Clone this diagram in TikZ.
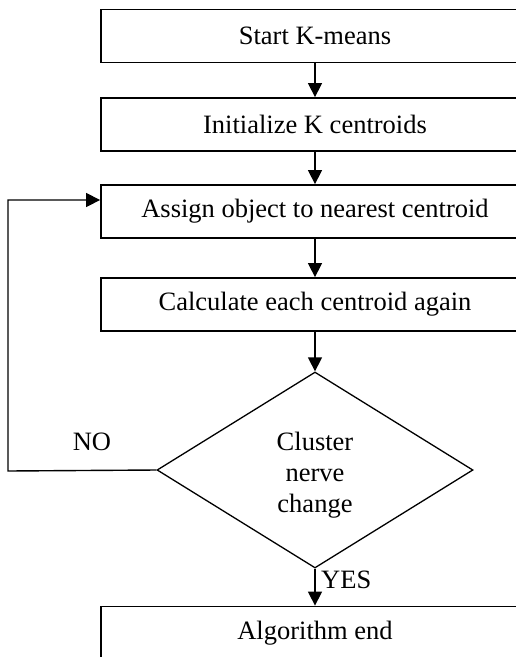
\documentclass[tikz,border=0pt]{standalone}
\usepackage{fontspec}
\setmainfont{Liberation Serif}
\usetikzlibrary{arrows.meta,shapes.geometric}
\begin{document}
\begin{tikzpicture}[x=1pt,y=-1pt,
  every node/.style={font=\fontsize{26.5}{31}\selectfont},
  stepbox/.style={draw,line width=1.8pt,rectangle,minimum width=428pt,minimum height=53pt,inner sep=0pt},
  decision/.style={draw,line width=1.3pt,diamond,minimum width=316pt,minimum height=196pt,inner sep=0pt,align=center},
  flow/.style={line width=1.4pt,-{Triangle[width=14pt,length=14pt]}},
  lab/.style={inner sep=0pt}]
\useasboundingbox (0,0) rectangle (515,657);
\node[stepbox] (b1) at (315,36) {Start K-means};
\node[stepbox] (b2) at (315,124.5) {Initialize K centroids};
\node[stepbox] (b3) at (315,211.5) {Assign object to nearest centroid};
\node[stepbox] (b4) at (315,304.5) {Calculate each centroid again};
\node[decision] (d) at (315,470) {};
\node[lab,align=center] (dt) at (315,475) {Cluster\\nerve\\change};
\node[stepbox] (b5) at (315,633) {Algorithm end};
\coordinate (c1) at (8,471);
\coordinate (c2) at (8,200);
\draw[flow] (b1) -- (b2);
\draw[flow] (b2) -- (b3);
\draw[flow] (b3) -- (b4);
\draw[flow] (b4) -- (d);
\draw[flow] (d) -- (b5);
\draw[flow] (d.west) -- (c1) -- (c2) -- (c2 -| b3.west);
\node[lab] (no) at (92,442) {NO};
\node[lab,anchor=west] (yes) at (321,580) {YES};
\end{tikzpicture}
\end{document}
